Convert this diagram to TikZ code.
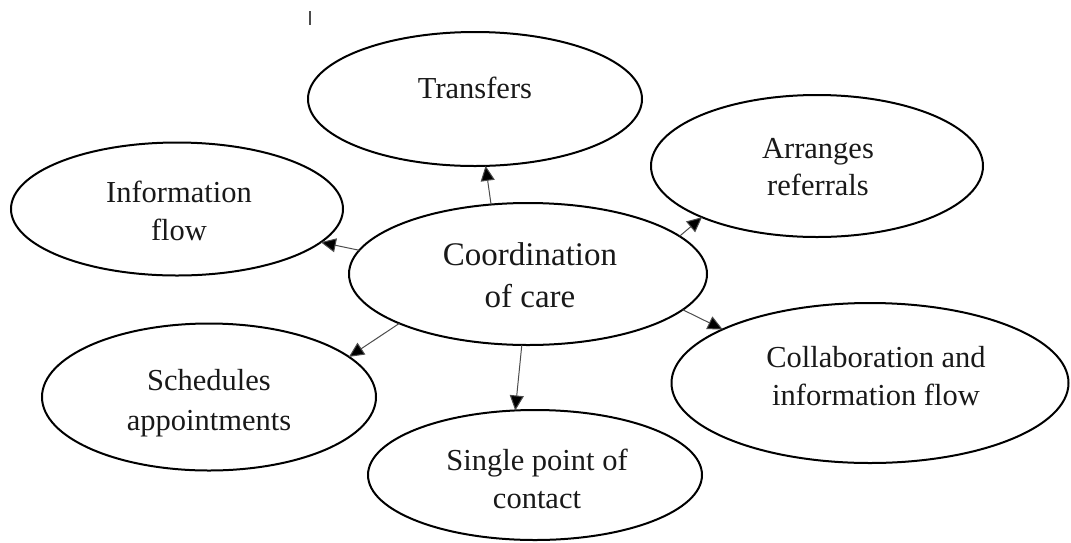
\documentclass[tikz,border=0pt]{standalone}
\usepackage{fontspec}
\setmainfont{Liberation Serif}
\usetikzlibrary{arrows.meta,shapes.geometric}
\begin{document}
\begin{tikzpicture}[x=1pt,y=-1pt,
  oval/.style={ellipse, draw=black, line width=2pt, inner sep=0pt, outer sep=0pt},
  lbl/.style={align=center, anchor=base, inner sep=0pt, text=black!90, font=\fontsize{30.5}{38}\selectfont},
  arr/.style={draw=black!70, line width=1pt, -{Triangle[length=15pt,width=14pt,fill=black]}}]
\useasboundingbox (0,0) rectangle (1071,542);
% stray mark at top
\coordinate (m1) at (310,11);
\coordinate (m2) at (310,25);
\draw[black!70, line width=1.2pt] (m1) -- (m2);
% ellipses
\node[oval, minimum width=334pt, minimum height=134pt] (tr) at (475,99) {};
\node[oval, minimum width=332pt, minimum height=133pt] (info) at (177,209) {};
\node[oval, minimum width=332pt, minimum height=142pt] (arr) at (817,166) {};
\node[oval, minimum width=358pt, minimum height=142pt] (co) at (528,274) {};
\node[oval, minimum width=397pt, minimum height=160pt] (col) at (870,383) {};
\node[oval, minimum width=334pt, minimum height=147pt] (sch) at (209,397) {};
\node[oval, minimum width=334pt, minimum height=130pt] (sin) at (535,475) {};
% labels (anchor = baseline of last line)
\node[lbl] (trt) at (475,98) {Transfers};
\node[lbl] (infot) at (179,240) {Information\\flow};
\node[lbl, font=\fontsize{30.5}{37}\selectfont] (arrt) at (818,195) {Arranges\\referrals};
\node[lbl, font=\fontsize{33}{42}\selectfont] (cot) at (530,307) {Coordination\\of care};
\node[lbl] (colt) at (876,405) {Collaboration and\\information flow};
\node[lbl, font=\fontsize{30.5}{40}\selectfont] (scht) at (209,430) {Schedules\\appointments};
\node[lbl] (sint) at (537,508) {Single point of\\contact};
% connectors
\draw[arr] (co.118) -- (tr.279);
\draw[arr] (co.172.7) -- (info.347.5);
\draw[arr] (co.14.2) -- (arr.204.4);
\draw[arr] (co.347.3) -- (col.160.9);
\draw[arr] (co.201) -- (sch.16.3);
\draw[arr] (co.265.3) -- (sin.107.9);
\end{tikzpicture}
\end{document}
